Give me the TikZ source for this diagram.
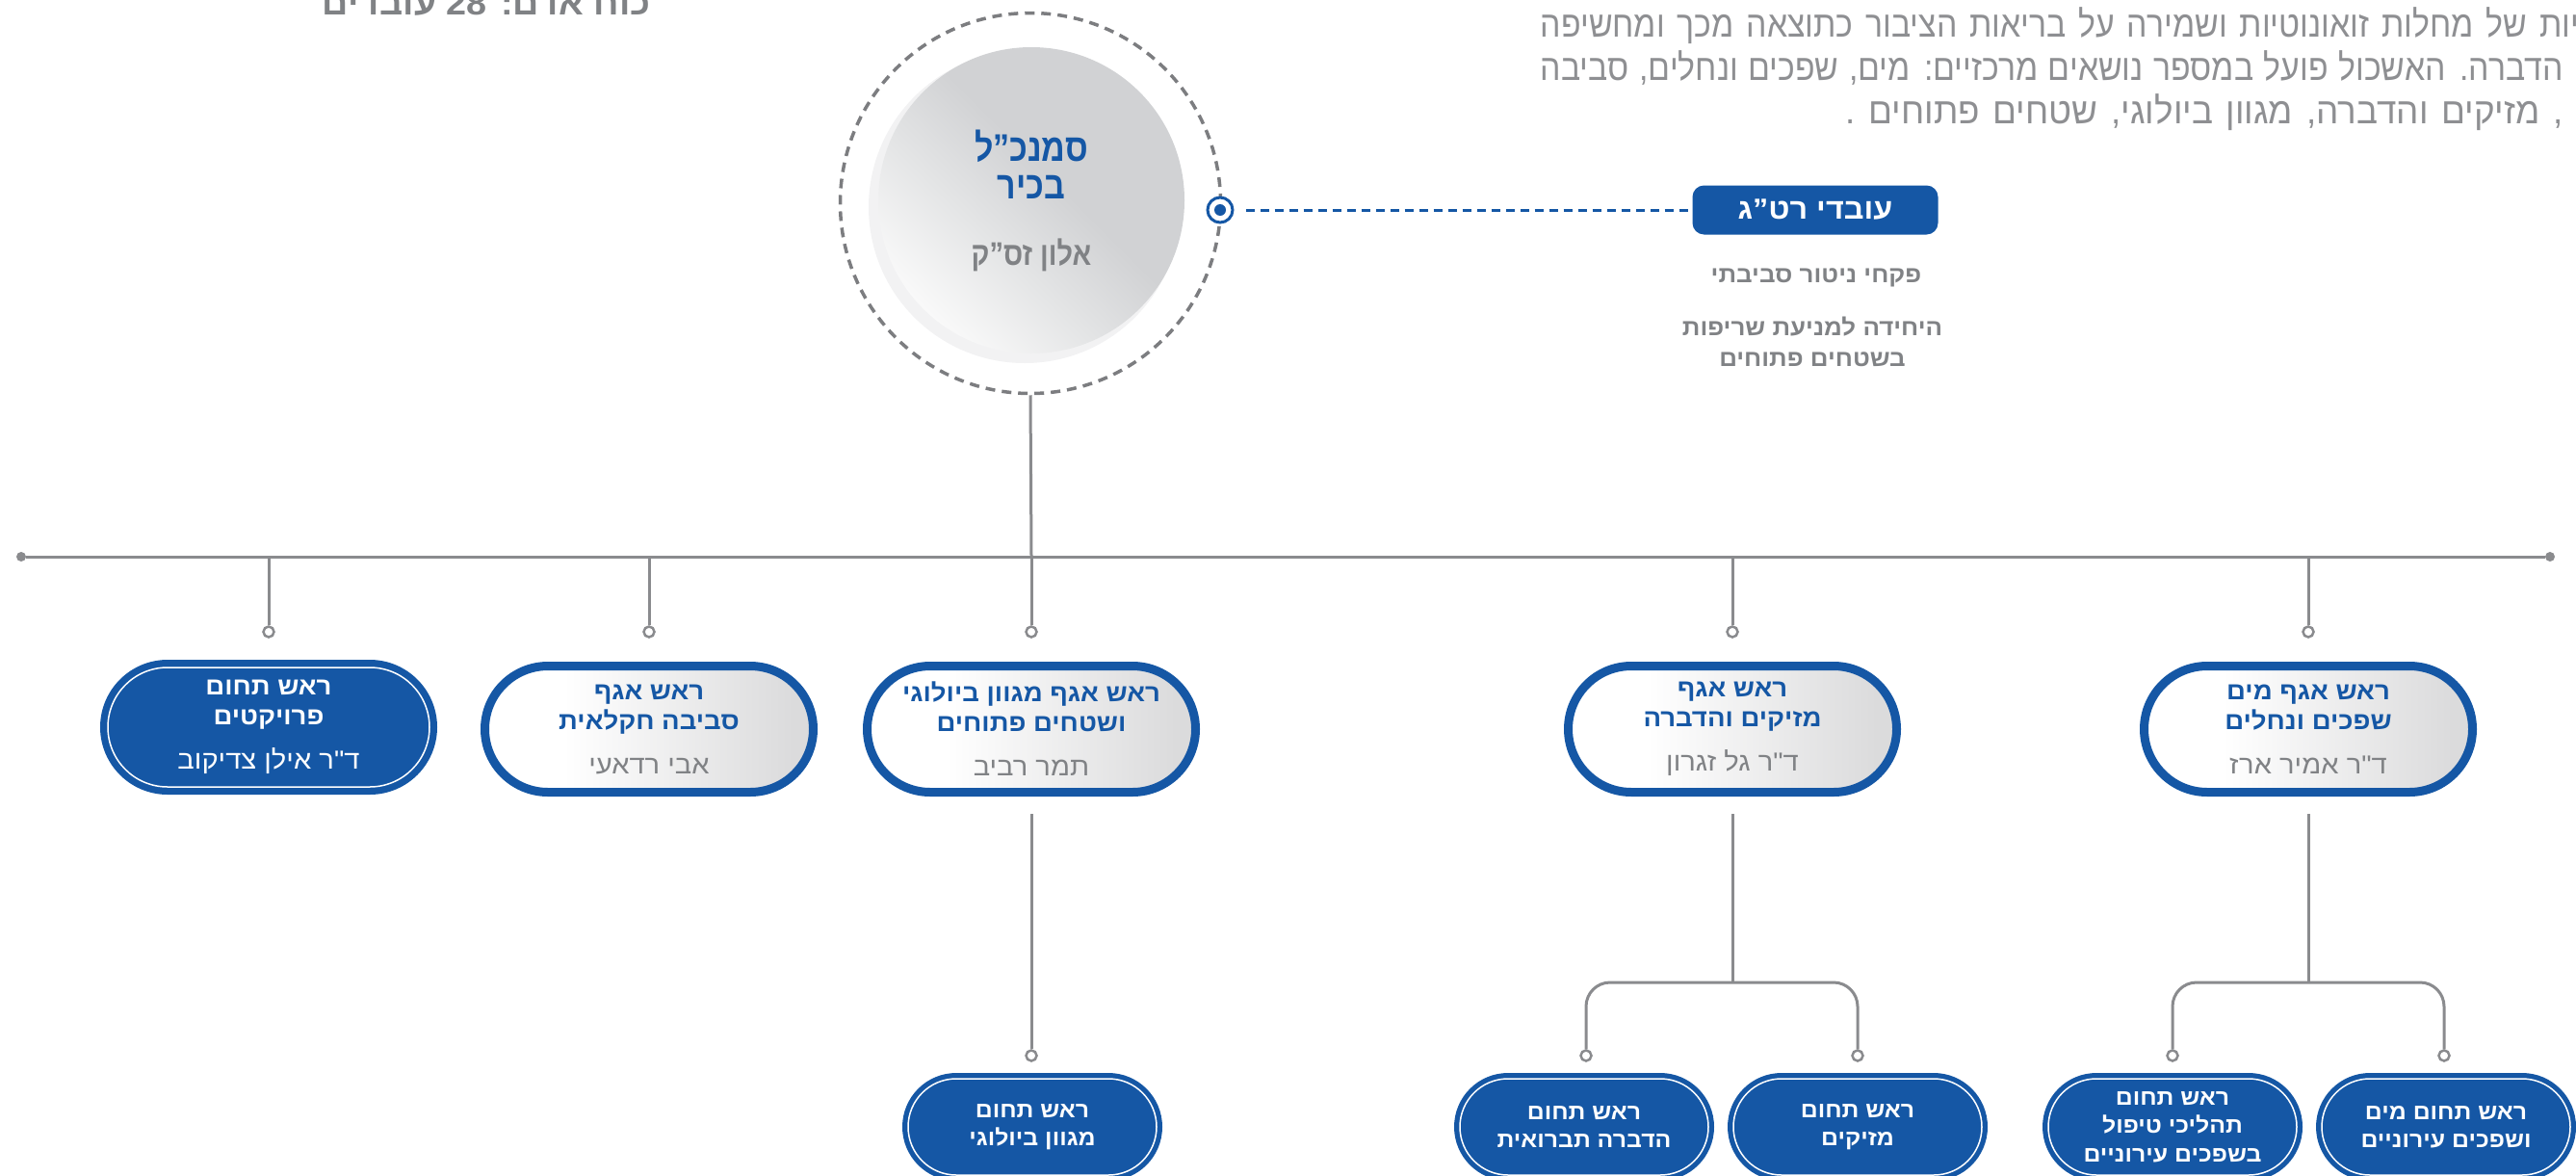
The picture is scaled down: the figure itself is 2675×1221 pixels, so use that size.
\documentclass[tikz,border=0pt]{standalone}
\usepackage{fontspec}
\usetikzlibrary{calc}
\TeXXeTstate=1
\newfontfamily\hebb[Script=Hebrew,FakeStretch=1.08]{Liberation Sans}
\newfontfamily\hebcond[Script=Hebrew,FakeStretch=0.85]{Liberation Sans}
\newfontfamily\hebpara[Script=Hebrew,FakeStretch=0.89]{Liberation Sans}
\newfontfamily\hebparaw[Script=Hebrew,FakeStretch=0.97]{Liberation Sans}
\definecolor{rtgblue}{HTML}{1557A5}
\definecolor{txtgray}{HTML}{808285}
\definecolor{paragray}{HTML}{8E8F92}
\definecolor{linegray}{HTML}{8A8B8E}
\definecolor{ringgray}{HTML}{7C7D80}
\definecolor{boxgray}{HTML}{DBDBDC}
\definecolor{circdark}{HTML}{D1D2D4}
\definecolor{circmid}{HTML}{E2E3E4}
\definecolor{circlight}{HTML}{F9F9F9}
\definecolor{glowc}{HTML}{F2F2F3}
\pgfdeclarehorizontalshading{boxshade}{100bp}{color(0bp)=(white); color(25bp)=(white); color(37bp)=(white); color(72bp)=(boxgray); color(100bp)=(boxgray)}
\pgfdeclareverticalshading{circshade}{100bp}{color(0bp)=(circlight); color(25bp)=(circlight); color(42bp)=(circmid); color(55bp)=(circdark); color(100bp)=(circdark)}
\newcommand\heb[1]{\beginR#1\endR}
\newcommand\titlefont{\hebb\bfseries\fontsize{25.5}{31}\selectfont}
\newcommand\namefont{\hebb\mdseries\fontsize{27}{31}\selectfont}
\newcommand\subfont{\hebb\bfseries\fontsize{23}{29.5}\selectfont}
\begin{document}
\begin{tikzpicture}[x=1pt,y=-1pt,
  conn/.style={draw=linegray, line width=3pt},
  fdot/.style={circle, fill=linegray, minimum size=10pt, inner sep=0pt},
  odot/.style={circle, draw=linegray, fill=white, line width=2.5pt, minimum size=11pt, inner sep=0pt},
  lvl/.style={rectangle, rounded corners=65.5pt, minimum width=341pt, minimum height=131pt, line width=9pt, draw=rtgblue, inner sep=0pt, align=center, font=\titlefont},
  lvlgrey/.style={lvl, shade, shading=boxshade, text=rtgblue},
  lvlblue/.style={lvl, fill=rtgblue, text=white},
  subbox/.style={rectangle, rounded corners=56pt, minimum width=270pt, minimum height=112pt, fill=rtgblue, text=white, inner sep=0pt, outer sep=0pt, align=center, font=\subfont},
  wline/.style={draw=white, line width=1.5pt},
  paraline/.style={anchor=base east, inner sep=0pt, text=paragray, font=\hebpara\fontsize{38}{45}\selectfont},
  stafftext/.style={text=txtgray, align=center, inner sep=0pt, font=\hebb\bfseries\fontsize{24}{32}\selectfont}
]
\useasboundingbox (0,0) rectangle (2675,1221);
\clip (0,0) rectangle (2675,1221);

% top texts
\node[anchor=base east, inner sep=0pt, text=txtgray, font=\hebb\bfseries\fontsize{35}{40}\selectfont] (hr) at (676,15) {\heb{כוח אדם: \beginL28\endL{} עובדים}};
\node[paraline] (p1) at (2678,38) {\hbox to 1078pt{\spaceskip=0.26em plus 1fil minus 0.08em\heb{יות של מחלות זואונוטיות ושמירה על בריאות הציבור כתוצאה מכך ומחשיפה}}};
\node[paraline] (p2) at (2662,83) {\hbox to 1062pt{\spaceskip=0.26em plus 1fil minus 0.08em\heb{הדברה. האשכול פועל במספר נושאים מרכזיים: מים, שפכים ונחלים, סביבה}}};
\node[paraline, font=\hebparaw\fontsize{38}{45}\selectfont] (p3) at (2662,128) {\hbox to 745pt{\spaceskip=0.26em plus 1fil\heb{, מזיקים והדברה, מגוון ביולוגי, שטחים פתוחים .}}};

% central circle
\node[circle, draw=ringgray, line width=3.5pt, dash pattern=on 10pt off 7pt, minimum size=395pt, inner sep=0pt] (ring) at (1070,211) {};
\fill[glowc] (1064,215) circle (162);
\node[circle, minimum size=318pt, inner sep=0pt, shade, shading=circshade, shading angle=-45, align=center, font=\hebcond\bfseries\fontsize{40}{39}\selectfont] (vp) at (1071,208) {{\color{rtgblue}\heb{סמנכ”ל}}\\{\color{rtgblue}\heb{בכיר}}\\[30pt]{\fontsize{34}{39}\selectfont\color{txtgray}\heb{אלון זס”ק}}};

% staff
\node[circle, draw=rtgblue, fill=white, line width=3pt, minimum size=26pt, inner sep=0pt] (tg) at (1267,218) {};
\node[circle, fill=rtgblue, minimum size=12pt, inner sep=0pt] (tgd) at (tg) {};
\node[rectangle, rounded corners=12pt, fill=rtgblue, text=white, minimum width=255pt, minimum height=51pt, inner sep=0pt, font=\hebb\bfseries\fontsize{30}{34}\selectfont] (staff) at (1885,218) {\heb{עובדי רט”ג}};
\draw[rtgblue, line width=3pt, dash pattern=on 9pt off 6pt, shorten <=12pt] (tg.east) -- (staff.west);
\node[stafftext] (st1) at (1886,288) {\heb{פקחי ניטור סביבתי}};
\node[stafftext] (st2) at (1882,355) {\heb{היחידה למניעת שריפות}\\\heb{בשטחים פתוחים}};

% main horizontal line
\node[fdot] (dl) at (22,578) {};
\node[fdot] (dr) at (2648,578) {};
\draw[conn] (dl) -- (dr);
\coordinate (j1) at (279,578);
\coordinate (j2) at (674,578);
\coordinate (j3) at (1071,578);
\coordinate (j4) at (1799,578);
\coordinate (j5) at (2397,578);
\draw[conn] (ring.south) -- (j3);
\node[odot] (c1) at (279,656) {};
\node[odot] (c2) at (674,656) {};
\node[odot] (c3) at (1071,656) {};
\node[odot] (c4) at (1799,656) {};
\node[odot] (c5) at (2397,656) {};
\foreach \i in {1,...,5} {\draw[conn] (j\i) -- (c\i);}

% level one boxes
\node[lvlblue] (b1) at (279,755) {\heb{ראש תחום}\\\heb{פרויקטים}\\[15pt]{\namefont\heb{ד"ר אילן צדיקוב}}};
\draw[wline, rounded corners=62pt] ([xshift=8pt,yshift=-8pt]b1.north west) rectangle ([xshift=-8pt,yshift=8pt]b1.south east);
\node[lvlgrey] (b2) at (674,757) {\heb{ראש אגף}\\\heb{סביבה חקלאית}\\[15pt]{\namefont\color{txtgray}\heb{אבי רדאעי}}};
\node[lvlgrey] (b3) at (1071,757) {\heb{ראש אגף מגוון ביולוגי}\\\heb{ושטחים פתוחים}\\[15pt]{\namefont\color{txtgray}\heb{תמר רביב}}};
\node[lvlgrey] (b4) at (1799,757) {\heb{ראש אגף}\\\heb{מזיקים והדברה}\\[15pt]{\namefont\color{txtgray}\heb{ד"ר גל זגרון}}};
\node[lvlgrey] (b5) at (2397,757) {\heb{ראש אגף מים}\\\heb{שפכים ונחלים}\\[15pt]{\namefont\color{txtgray}\heb{ד"ר אמיר ארז}}};

% level two
\coordinate (s3) at (1071,845);
\coordinate (s4) at (1799,845);
\coordinate (s5) at (2397,845);
\coordinate (k4) at (1799,1020);
\coordinate (k5) at (2397,1020);
\node[odot] (d3) at (1071,1096) {};
\node[odot] (d4a) at (1647,1096) {};
\node[odot] (d4b) at (1929,1096) {};
\node[odot] (d5a) at (2256,1096) {};
\node[odot] (d5b) at (2538,1096) {};
\draw[conn] (s3) -- (d3);
\draw[conn] (s4) -- (k4);
\draw[conn] (s5) -- (k5);
\draw[conn, rounded corners=25pt] (d4a) |- (k4) -| (d4b);
\draw[conn, rounded corners=25pt] (d5a) |- (k5) -| (d5b);

\node[subbox] (e3) at (1072,1170) {\heb{ראש תחום}\\\heb{מגוון ביולוגי}};
\node[subbox] (e4a) at (1645,1170) {\heb{ראש תחום}\\\heb{הדברה תברואית}};
\node[subbox] (e4b) at (1929,1170) {\heb{ראש תחום}\\\heb{מזיקים}};
\node[subbox] (e5a) at (2256,1170) {\heb{ראש תחום}\\\heb{תהליכי טיפול}\\\heb{בשפכים עירוניים}};
\node[subbox] (e5b) at (2540,1170) {\heb{ראש תחום מים}\\\heb{ושפכים עירוניים}};
\foreach \n in {e3,e4a,e4b,e5a,e5b} {
  \draw[wline, rounded corners=50pt] ([xshift=6pt,yshift=-6pt]\n.north west) rectangle ([xshift=-6pt,yshift=6pt]\n.south east);
}
\end{tikzpicture}
\end{document}
